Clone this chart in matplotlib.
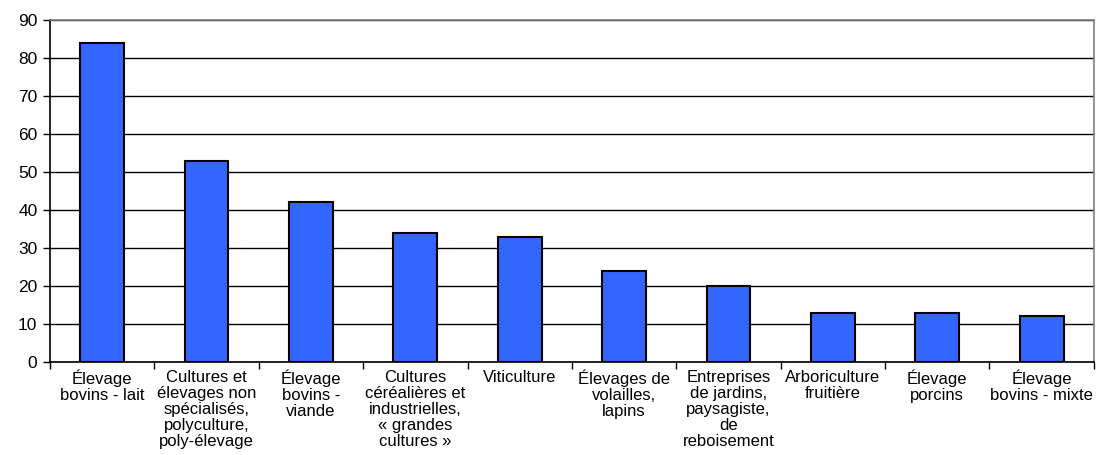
import matplotlib
matplotlib.use("Agg")
import matplotlib.pyplot as plt
import numpy as np

categories = [
    "Élevage\nbovins - lait",
    "Cultures et\nélevages non\nspécialisés,\npolyculture,\npoly-élevage",
    "Élevage\nbovins -\nviande",
    "Cultures\ncéréalières et\nindustrielles,\n« grandes\ncultures »",
    "Viticulture",
    "Élevages de\nvolailles,\nlapins",
    "Entreprises\nde jardins,\npaysagiste,\nde\nreboisement",
    "Arboriculture\nfruitière",
    "Élevage\nporcins",
    "Élevage\nbovins - mixte",
]
values = [84, 53, 42, 34, 33, 24, 20, 13, 13, 12]
y_ticks = list(range(0, 91, 10))

plt.rcParams['font.family'] = ['Liberation Sans', 'DejaVu Sans']

fig = plt.figure(figsize=(10.96, 4.55), dpi=100)
ax = fig.add_axes([0.0456, 0.2044, 0.9524, 0.7516])

x = np.arange(len(categories))
ax.bar(x, values, width=0.42, color="#3366ff", edgecolor="black", linewidth=1.5, zorder=3)

ax.set_xlim(-0.5, len(categories) - 0.5)
ax.set_ylim(0, 90)
ax.set_yticks(y_ticks)
ax.yaxis.grid(True, color="black", linewidth=1.0, zorder=0)
ax.tick_params(axis="y", labelsize=12.5, length=5, width=1, colors="black", pad=4)

# category labels centered under bars, ticks at boundaries
ax.set_xticks(np.arange(len(categories) + 1) - 0.5)
ax.set_xticklabels([])
ax.tick_params(axis="x", length=5, width=1, direction="out")
for xi, lab in zip(x, categories):
    ax.text(xi, -2.0, lab, ha="center", va="top", fontsize=12, linespacing=1.1)

ax.spines["left"].set_color("black")
ax.spines["bottom"].set_color("black")
ax.spines["top"].set_color("#808080")
ax.spines["right"].set_color("#808080")
for s in ax.spines.values():
    s.set_linewidth(1.2)

fig.savefig("out.png", dpi=100)
